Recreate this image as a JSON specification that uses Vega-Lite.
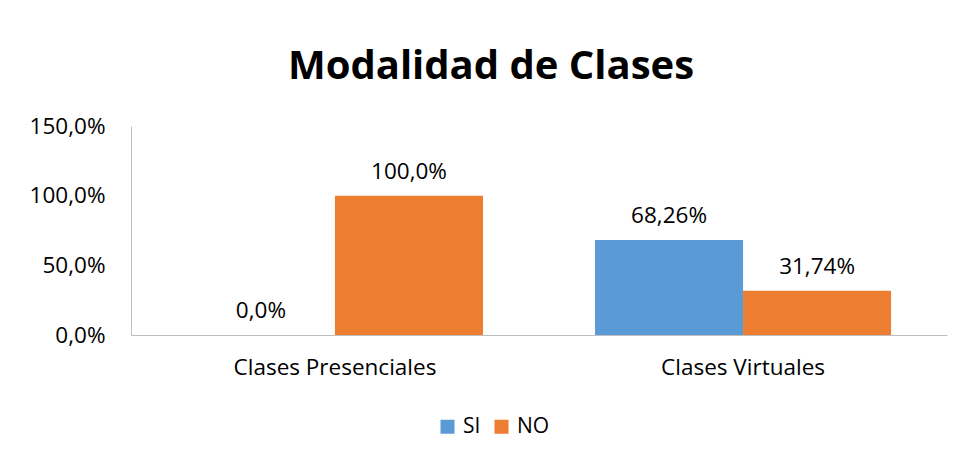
{
  "$schema": "https://vega.github.io/schema/vega-lite/v6.json",
  "autosize": {"type": "none"},
  "width": 816,
  "height": 209,
  "padding": {"left": 131, "top": 126, "right": 15, "bottom": 124},
  "background": "white",
  "config": {
    "font": "Open Sans",
    "view": {"stroke": null},
    "locale": {"number": {"decimal": ",", "thousands": ".", "grouping": [3], "currency": ["", " €"]}}
  },
  "title": {
    "text": "Modalidad de Clases",
    "fontSize": 40,
    "fontWeight": "bold",
    "font": "Open Sans",
    "color": "#000000",
    "anchor": "middle",
    "frame": "group",
    "baseline": "alphabetic",
    "offset": 36,
    "dy": 40,
    "dx": -48
  },
  "data": {
    "values": [
      {"modalidad": "Clases Presenciales", "respuesta": "SI", "valor": 0.0, "etiqueta": "0,0%"},
      {"modalidad": "Clases Presenciales", "respuesta": "NO", "valor": 1.0, "etiqueta": "100,0%"},
      {"modalidad": "Clases Virtuales", "respuesta": "SI", "valor": 0.6826, "etiqueta": "68,26%"},
      {"modalidad": "Clases Virtuales", "respuesta": "NO", "valor": 0.3174, "etiqueta": "31,74%"}
    ]
  },
  "encoding": {
    "x": {
      "field": "modalidad",
      "type": "nominal",
      "sort": ["Clases Presenciales", "Clases Virtuales"],
      "scale": {"paddingInner": 0.2745, "paddingOuter": 0.137},
      "axis": {
        "title": null,
        "labelAngle": 0,
        "ticks": false,
        "labelPadding": 21,
        "labelFontSize": 22.5,
        "labelLimit": 0,
        "labelColor": "#000000",
        "domainColor": "#BFBFBF",
        "domainWidth": 1
      }
    },
    "xOffset": {
      "field": "respuesta",
      "type": "nominal",
      "sort": ["SI", "NO"],
      "scale": {"paddingInner": 0, "paddingOuter": 0}
    },
    "y": {
      "field": "valor",
      "type": "quantitative",
      "scale": {"domain": [0, 1.5], "nice": false},
      "axis": {
        "title": null,
        "values": [0, 0.5, 1, 1.5],
        "format": ".1%",
        "grid": false,
        "ticks": false,
        "labelPadding": 26,
        "labelFontSize": 22.5,
        "labelColor": "#000000",
        "domainColor": "#BFBFBF",
        "domainWidth": 1
      }
    }
  },
  "layer": [
    {
      "mark": {"type": "bar"},
      "encoding": {
        "color": {
          "field": "respuesta",
          "type": "nominal",
          "sort": ["SI", "NO"],
          "scale": {"domain": ["SI", "NO"], "range": ["#5B9BD5", "#ED7D31"]},
          "legend": {
            "title": null,
            "orient": "none",
            "legendX": 306,
            "legendY": 290,
            "direction": "horizontal",
            "symbolType": "square",
            "symbolSize": 196,
            "symbolStrokeWidth": 0,
            "labelFontSize": 21,
            "labelColor": "#000000",
            "labelOffset": 5,
            "columnPadding": 10
          }
        }
      }
    },
    {
      "mark": {"type": "text", "baseline": "alphabetic", "dy": -17, "fontSize": 22.5, "color": "#000000"},
      "encoding": {
        "text": {"field": "etiqueta", "type": "nominal"}
      }
    }
  ]
}
